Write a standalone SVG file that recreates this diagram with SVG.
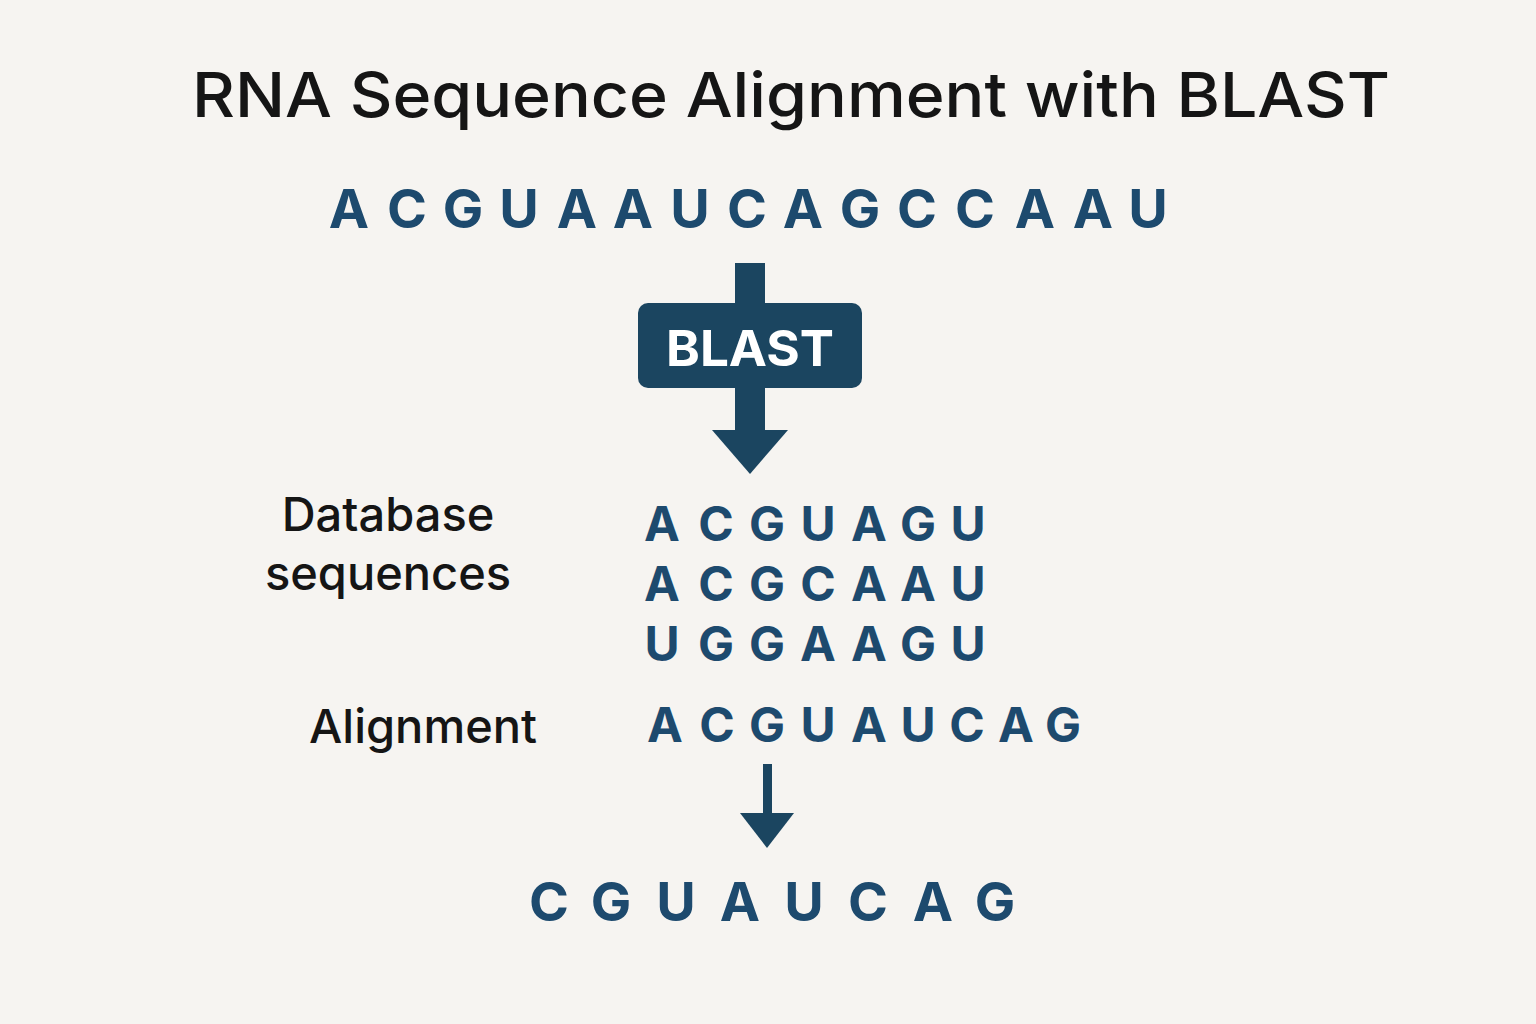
<svg xmlns="http://www.w3.org/2000/svg" width="1536" height="1024" viewBox="0 0 1536 1024">
<style>
.seq{font-family:Inter,"Liberation Sans",sans-serif;font-weight:700;fill:#1d4a6e;text-anchor:middle}
.lbl{font-family:Inter,"Liberation Sans",sans-serif;font-weight:500;fill:#151515;text-anchor:middle}
.flow{fill:#1b4560}
</style>
<rect width="1536" height="1024" fill="#f6f4f1"/>
<text x="791" y="117" class="lbl" font-size="62" textLength="1198" lengthAdjust="spacingAndGlyphs">RNA Sequence Alignment with BLAST</text>
<g id="query"><text class="seq" font-size="54" y="228" x="349 407 463 519 577 633 690 747 803 860 917 975 1035 1093 1148">ACGUAAUCAGCCAAU</text></g>
<g id="connectors">
<rect class="flow" x="735" y="263" width="30" height="170"/>
<polygon class="flow" points="712,430 788,430 750,474"/>
<rect class="flow" x="763" y="764" width="9" height="52"/>
<polygon class="flow" points="740,813 794,813 767,848"/>
</g>
<g id="blast">
<rect class="flow" x="638" y="303" width="224" height="85" rx="10"/>
<text x="750" y="366" font-family="Inter,Liberation Sans,sans-serif" font-weight="700" font-size="50" fill="#fff" text-anchor="middle" textLength="168" lengthAdjust="spacingAndGlyphs">BLAST</text>
</g>
<g id="database">
<text class="lbl" font-size="47" x="388" y="531">Database</text>
<text class="lbl" font-size="47" x="388" y="590">sequences</text>
<text class="seq" font-size="48" y="541" x="662 716 767 818 869 918 968">ACGUAGU</text>
<text class="seq" font-size="48" y="601" x="662 716 767 818 869 918 968">ACGCAAU</text>
<text class="seq" font-size="48" y="661" x="662 716 767 818 869 918 968">UGGAAGU</text>
</g>
<g id="alignment">
<text class="lbl" font-size="47" x="423" y="743">Alignment</text>
<text class="seq" font-size="48" y="742" x="665 717 767 818 869 918 967 1016 1063">ACGUAUCAG</text>
</g>
<g id="result"><text class="seq" font-size="54" y="921" x="549 611 676 740 804 868 933 995">CGUAUCAG</text></g>
</svg>
